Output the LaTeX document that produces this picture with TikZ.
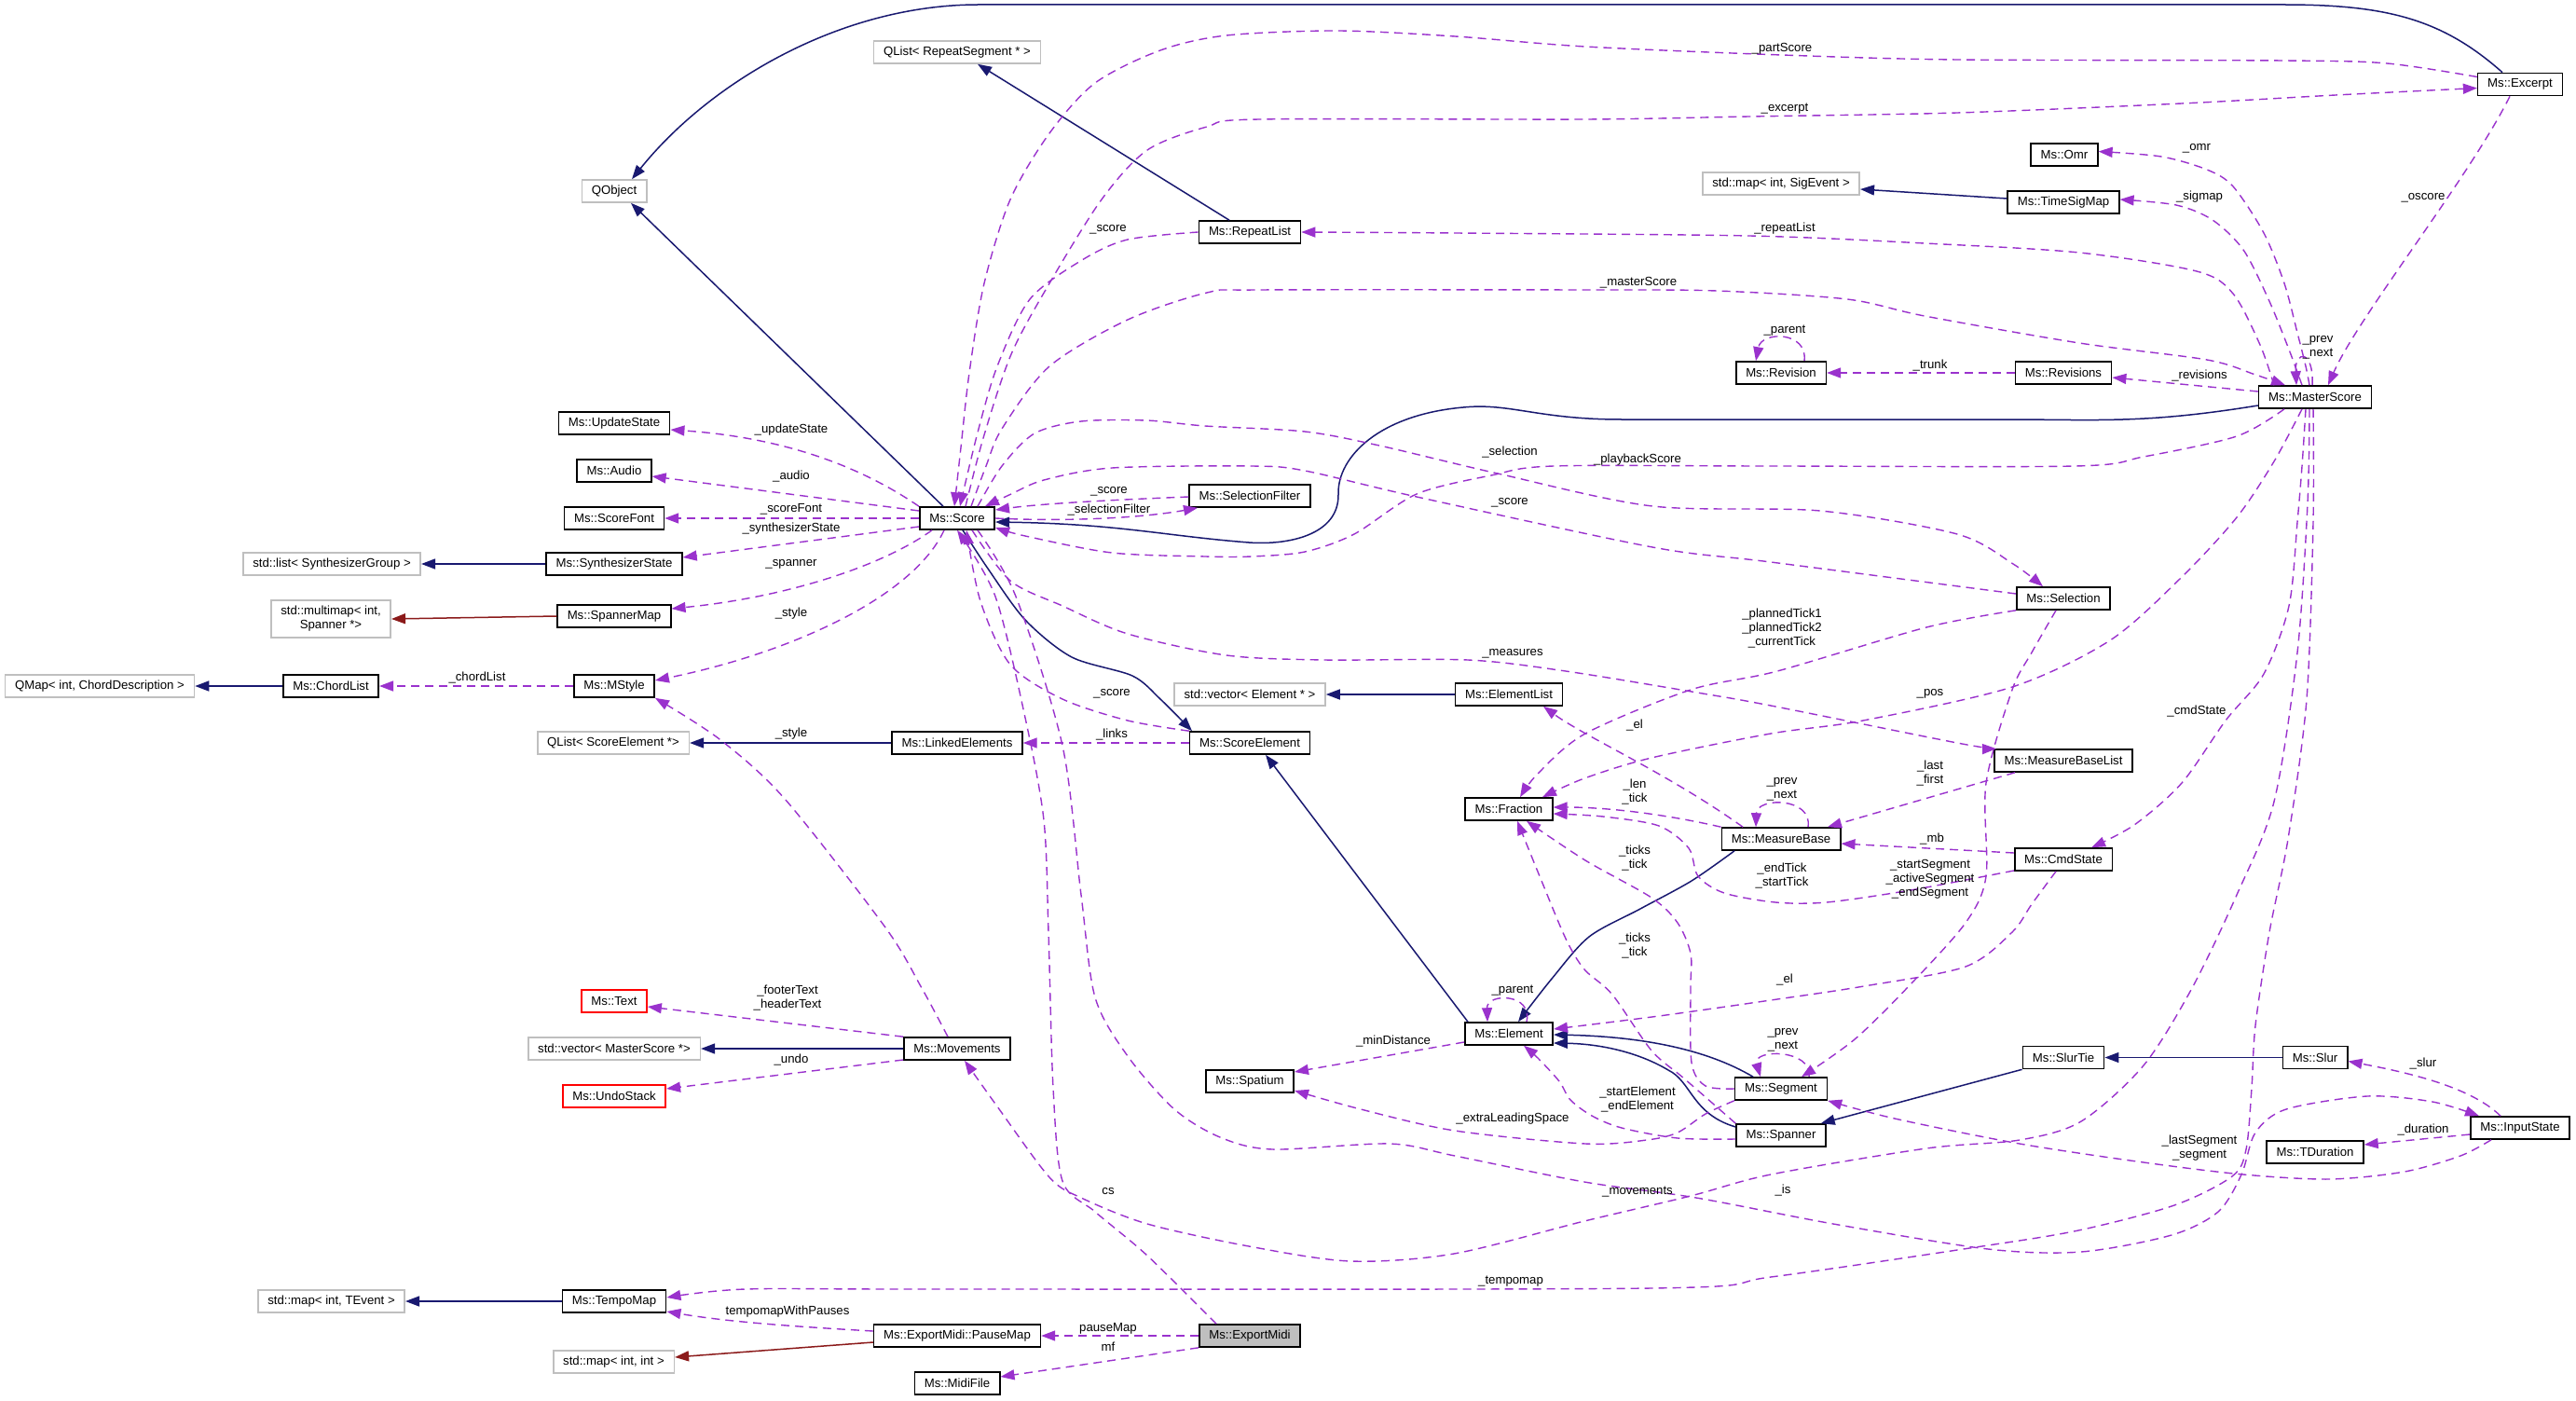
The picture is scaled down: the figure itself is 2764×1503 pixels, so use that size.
\documentclass[tikz,border=0pt]{standalone}
\usepackage{fontspec}
\setmainfont{Liberation Sans}
\usetikzlibrary{arrows.meta}
\definecolor{inhc}{HTML}{191970}
\definecolor{usec}{HTML}{9A32CD}
\definecolor{tplc}{HTML}{8B1A1A}
\definecolor{extc}{HTML}{BFBFBF}
\definecolor{selc}{HTML}{BFBFBF}
\newcommand\dgf{\fontsize{13.2}{15}\selectfont}
\tikzset{
  cls/.style={draw=black, line width=1.6pt, fill=white, inner xsep=10.5pt, inner ysep=0pt, minimum height=24pt, font=\dgf, align=center},
  ext/.style={cls, draw=extc},
  redc/.style={cls, draw=red},
  cur/.style={cls, fill=selc},
  inh/.style={draw=inhc, line width=1.5pt, -{Triangle[length=15pt,width=11pt]}},
  tpl/.style={draw=tplc, line width=1.5pt, -{Triangle[length=15pt,width=11pt]}},
  use/.style={draw=usec, line width=1.4pt, dash pattern=on 9pt off 6pt, -{Triangle[length=15pt,width=11pt]}},
  lbl/.style={font=\dgf, inner sep=0pt, align=center, text=black},
}
\begin{document}
\begin{tikzpicture}[x=1pt,y=-1pt]
\useasboundingbox (0,0) rectangle (2764,1503);
\fill[white] (0,0) rectangle (2764,1503);

% ---------------- nodes ----------------
\node[ext] (qobj) at (659,205) {QObject};
\node[ext] (qlrs) at (1027,56) {QList< RepeatSegment * >};
\node[cls] (exc) at (2704,90.5) {Ms::Excerpt};
\node[cls] (omr) at (2215,166) {Ms::Omr};
\node[ext] (sigev) at (1911,197) {std::map< int, SigEvent >};
\node[cls] (tsm) at (2214,217) {Ms::TimeSigMap};
\node[cls] (rl) at (1341,249) {Ms::RepeatList};
\node[cls] (rev) at (1911,400) {Ms::Revision};
\node[cls] (revs) at (2214,400) {Ms::Revisions};
\node[cls] (ms) at (2484,426) {Ms::MasterScore};
\node[cls] (ups) at (659,454) {Ms::UpdateState};
\node[cls] (aud) at (659,505) {Ms::Audio};
\node[cls] (sf) at (659,556) {Ms::ScoreFont};
\node[cls] (sc) at (1027,556) {Ms::Score};
\node[cls] (self) at (1341,532) {Ms::SelectionFilter};
\node[ext] (slsg) at (356,605) {std::list< SynthesizerGroup >};
\node[cls] (ss) at (659,605) {Ms::SynthesizerState};
\node[ext, minimum height=40pt, inner ysep=3pt] (smm) at (355,664) {std::multimap< int,\\Spanner *>};
\node[cls] (sm) at (659,661) {Ms::SpannerMap};
\node[cls] (sel) at (2214,642) {Ms::Selection};
\node[ext] (qmap) at (107,736) {QMap< int, ChordDescription >};
\node[cls] (cl) at (355,736) {Ms::ChordList};
\node[cls] (mst) at (659,736) {Ms::MStyle};
\node[ext] (sve) at (1341,745) {std::vector< Element * >};
\node[cls] (elist) at (1619,745) {Ms::ElementList};
\node[ext] (qlse) at (658,797) {QList< ScoreElement *>};
\node[cls] (le) at (1027,797) {Ms::LinkedElements};
\node[cls] (sce) at (1341,797) {Ms::ScoreElement};
\node[cls] (mbl) at (2214,816) {Ms::MeasureBaseList};
\node[cls] (fr) at (1619,868) {Ms::Fraction};
\node[cls] (mb) at (1911,900) {Ms::MeasureBase};
\node[cls] (cmd) at (2214,922) {Ms::CmdState};
\node[redc] (txt) at (659,1074) {Ms::Text};
\node[ext] (svms) at (659,1125) {std::vector< MasterScore *>};
\node[cls] (mov) at (1027,1125) {Ms::Movements};
\node[redc] (us) at (659,1176) {Ms::UndoStack};
\node[cls] (elm) at (1619,1109) {Ms::Element};
\node[cls] (spa) at (1341,1160) {Ms::Spatium};
\node[cls] (slt) at (2214,1134.5) {Ms::SlurTie};
\node[cls] (slur) at (2484,1134.5) {Ms::Slur};
\node[cls] (seg) at (1911,1168) {Ms::Segment};
\node[cls] (span) at (1911,1218) {Ms::Spanner};
\node[cls] (tdur) at (2484,1236) {Ms::TDuration};
\node[cls] (inp) at (2704,1210) {Ms::InputState};
\node[ext] (smte) at (355.5,1396) {std::map< int, TEvent >};
\node[cls] (tm) at (659,1396) {Ms::TempoMap};
\node[cls] (pmap) at (1027,1433) {Ms::ExportMidi::PauseMap};
\node[cur] (expm) at (1341,1433) {Ms::ExportMidi};
\node[ext] (smii) at (658.5,1461) {std::map< int, int >};
\node[cls] (midi) at (1027,1484) {Ms::MidiFile};

% ---------------- inheritance ----------------
\draw[inh] ([xshift=-19pt]exc.north) .. controls (2620,20) and (2560,5) .. (2450,5) -- (1050,5) .. controls (900,5) and (760,90) .. ([xshift=19pt]qobj.north);
\draw[inh] ([xshift=-22pt]rl.north) -- ([xshift=22pt]qlrs.south);
\draw[inh] ([yshift=4pt]tsm.west) -- ([yshift=-6pt]sigev.east);
\draw[inh] ([yshift=-9pt]ms.west) .. controls (2300,455) and (2250,450) .. (2150,450) -- (1740,450) .. controls (1650,450) and (1620,432) .. (1570,437) .. controls (1480,445) and (1435,490) .. (1436,530) .. controls (1437,575) and (1380,585) .. (1340,582) .. controls (1250,575) and (1200,562) .. ([yshift=-4pt]sc.east);
\draw[inh] ([xshift=-15pt]sc.north) -- ([xshift=18pt]qobj.south);
\draw[inh] (ss.west) -- (slsg.east);
\draw[inh] (cl.west) -- (qmap.east);
\draw[inh] (le.west) -- (qlse.east);
\draw[inh] plot[smooth] coordinates {([xshift=6pt]sc.south) (1060,610) (1100,665) (1150,705) (1215,725) (1245,750) ([xshift=-62pt]sce.north)};
\draw[inh] (elist.west) -- (sve.east);
\draw[inh] ([xshift=-44pt]elm.north) -- ([xshift=17pt]sce.south);
\draw[inh] plot[smooth] coordinates {([xshift=-50pt]mb.south) (1815,945) (1760,975) (1705,1005) (1665,1050) ([xshift=10pt]elm.north)};
\draw[inh] ([xshift=-30pt]seg.north) .. controls (1830,1125) and (1760,1112) .. ([yshift=-1pt]elm.east);
\draw[inh] ([yshift=9pt]span.west) .. controls (1815,1195) and (1815,1160) .. (1790,1148) .. controls (1760,1130) and (1720,1120) .. ([yshift=-10pt]elm.east);
\draw[inh] (slt.south west) -- ([xshift=-6pt]span.north east);
\draw[inh] (slur.west) -- (slt.east);
\draw[inh] (mov.west) -- (svms.east);
\draw[inh] (tm.west) -- (smte.east);
\draw[tpl] (sm.west) -- (smm.east);
\draw[tpl] ([yshift=-7pt]pmap.west) -- ([yshift=5pt]smii.east);

% ---------------- usage ----------------
\draw[use] (sc.north west) .. controls (930,505) and (850,470) .. ([yshift=-7pt]ups.east);
\draw[use] ([yshift=8pt]sc.west) -- ([yshift=-6pt]aud.east);
\draw[use] (sc.west) -- (sf.east);
\draw[use] ([yshift=-9pt]sc.west) -- ([yshift=7pt]ss.east);
\draw[use] ([xshift=-27pt]sc.south) .. controls (950,605) and (850,640) .. ([yshift=8pt]sm.east);
\draw[use] ([xshift=-14pt]sc.south) .. controls (980,640) and (850,700) .. ([yshift=6pt]mst.east);
\draw[use] (mst.west) -- (cl.east);
\draw[use] plot[smooth] coordinates {([xshift=-10pt]mov.north) (989,1060) (950,995) (842,857) (772,793) (mst.south east)};
\draw[use] (sce.west) -- (le.east);
\draw[use] plot[smooth] coordinates {(sce.north west) (1210,773) (1140,750) (1084,713) (1052,645) ([xshift=10pt]sc.south)};
\draw[use] plot[smooth] coordinates {(rl.west) (1210,257) (1161,279) (1105,321) (1070,393) (1049,464) ([xshift=3pt]sc.north)};
\draw[use] ([yshift=-1pt]self.west) .. controls (1200,536) and (1120,540) .. ([yshift=9pt]sc.east);
\draw[use] (sc.east) .. controls (1150,560) and (1230,555) .. ([xshift=-56pt]self.south);
\draw[use] plot[smooth] coordinates {([yshift=8pt]exc.west) (2561,68) (2450,65) (2100,64) (1912,59) (1701,50) (1561,39) (1435,33) (1316,38) (1245,54) (1175,89) (1126,143) (1084,214) (1056,304) (1040,400) (1031,480) ([xshift=-3pt]sc.north)};
\draw[use] plot[smooth] coordinates {([xshift=9pt]sc.north) (1055,470) (1085,380) (1126,304) (1182,214) (1231,161) (1295,136) (1351,128) (1701,128) (1877,125) (2100,121) (2341,111) (2506,102) ([yshift=-4pt]exc.west)};
\draw[use] plot[smooth] coordinates {([xshift=-44pt]ms.north) (2425,370) (2396,315) (2357,291) (2231,271) (2065,261) (1877,253) (1561,250) (rl.east)};
\draw[use] plot[smooth] coordinates {([xshift=15pt]sc.north) (1058,500) (1075,460) (1126,393) (1210,343) (1295,314) (1351,311) (1701,311) (1842,312) (1982,321) (2065,339) (2231,368) (2368,386) (2420,402) ([xshift=-32pt]ms.north)};
\draw[use] ([xshift=-3pt]ms.north) .. controls (2483,375) and (2462,375) .. ([xshift=-20pt]ms.north);
\draw[use] ([xshift=-11pt]exc.south) .. controls (2650,190) and (2530,340) .. ([xshift=14pt]ms.north);
\draw[use] plot[smooth] coordinates {([xshift=-6pt]ms.north) (2474,393) (2465,357) (2451,304) (2429,250) (2396,200) (2368,182) (2319,168) ([yshift=3.5pt]omr.east)};
\draw[use] plot[smooth] coordinates {([xshift=-14pt]ms.north) (2456,375) (2434,321) (2407,268) (2374,236) (2335,220) ([yshift=3pt]tsm.east)};
\draw[use] ([yshift=6pt]ms.west) -- ([yshift=-5pt]revs.east);
\draw[use] (revs.west) -- (rev.east);
\draw[use] ([xshift=25pt]rev.north) .. controls (1940,355) and (1890,355) .. ([xshift=-27pt]rev.north);
\draw[use] plot[smooth] coordinates {([xshift=22pt]sc.north) (1075,500) (1110,465) (1160,452) (1230,451) (1293,457) (1400,463) (1480,478) (1607,508) (1773,543) (1953,548) (2100,573) (2160,605) ([xshift=-22pt]sel.north)};
\draw[use] plot[smooth] coordinates {([yshift=5pt]sel.west) (1900,603) (1773,587) (1520,533) (1400,505) (1343,500) (1193,502) (1120,515) (1085,530) ([xshift=30pt]sc.north)};
\draw[use] plot[smooth] coordinates {([xshift=-33pt]ms.south) (2400,468) (2300,490) (2227,500) (1900,500) (1667,500) (1600,510) (1520,530) (1453,573) (1400,592) (1343,597) (1293,597) (1193,593) (1100,575) ([yshift=-10pt]sc.east)};
\draw[use] plot[smooth] coordinates {([xshift=16pt]sc.south) (1084,623) (1140,650) (1210,680) (1316,703) (1421,708) (1575,708) (1680,720) (1821,743) (1900,757) (2100,797) ([xshift=-72pt]mbl.north)};
\draw[use] plot[smooth] coordinates {([xshift=-14pt]ms.south) (2440,495) (2400,555) (2340,620) (2264,687) (2159,737) (1999,773) (1900,787) (1772,813) (1700,835) ([xshift=36pt]fr.north)};
\draw[use] plot[smooth] coordinates {(sel.south west) (2067,673) (1907,720) (1814,740) (1701,787) (1650,830) ([xshift=12pt]fr.north)};
\draw[use] ([xshift=-41pt]mb.north) .. controls (1790,830) and (1700,790) .. ([xshift=37pt]elist.south);
\draw[use] ([xshift=-52pt]mbl.south) -- ([xshift=50pt]mb.north);
\draw[use] ([xshift=29pt]mb.north) .. controls (1945,855) and (1885,855) .. ([xshift=-27pt]mb.north);
\draw[use] (mb.north west) .. controls (1780,872) and (1720,866) .. ([yshift=2pt]fr.east);
\draw[use] ([yshift=7pt]cmd.west) -- ([yshift=-5pt]mb.east);
\draw[use] plot[smooth] coordinates {([yshift=-12pt]cmd.west) (2050,955) (1960,968) (1905,968) (1850,958) (1822,940) (1812,910) (1780,886) (1720,876) ([yshift=-5pt]fr.east)};
\draw[use] plot[smooth] coordinates {([xshift=-8pt]sel.south) (2180,700) (2159,740) (2131,840) (2131,940) (2109,990) (2049,1057) (1990,1115) ([xshift=22pt]seg.north)};
\draw[use] plot[smooth] coordinates {([xshift=-10pt]ms.south) (2470,500) (2465,560) (2456,650) (2429,723) (2388,773) (2341,840) (2290,885) ([xshift=30pt]cmd.north)};
\draw[use] plot[smooth] coordinates {([xshift=-6pt]ms.south) (2476,540) (2465,700) (2440,860) (2400,960) (2352,1060) (2300,1143) (2233,1203) (2167,1223) (2067,1232) (1900,1260) (1814,1283) (1700,1310) (1560,1345) (1449,1353) (1340,1337) (1231,1313) (1160,1285) (1126,1263) (1070,1187) ([xshift=8pt]mov.south)};
\draw[use] plot[smooth] coordinates {([xshift=-2pt]ms.south) (2482,560) (2475,750) (2455,900) (2435,1000) (2420,1100) (2416,1167) (2410,1233) (2395,1262) (2333,1293) (2230,1320) (2120,1338) (1900,1370) (1772,1382) (1000,1383) (800,1383) ([yshift=4pt]tm.east)};
\draw[use] plot[smooth] coordinates {([xshift=22pt]sc.south) (1090,640) (1140,800) (1160,960) (1175,1070) (1210,1133) (1260,1190) (1309,1220) (1365,1233) (1491,1227) (1561,1240) (1700,1268) (1820,1285) (1967,1313) (2133,1340) (2233,1343) (2330,1325) (2380,1300) (2405,1260) (2420,1215) (2453,1190) (2540,1176) (2610,1182) ([xshift=-44pt]inp.north)};
\draw[use] plot[smooth] coordinates {([xshift=-8pt]cmd.south) (2180,970) (2159,1000) (2109,1037) (2000,1058) (1900,1073) (1780,1090) ([yshift=5pt]elm.east)};
\draw[use] plot[smooth] coordinates {(seg.west) (1830,1165) (1815,1140) (1814,1060) (1814,1023) (1800,990) (1772,963) (1701,923) ([xshift=19pt]fr.south)};
\draw[use] plot[smooth] coordinates {(span.north west) (1807,1157) (1772,1127) (1730,1067) (1700,1040) (1680,1007) (1652,940) ([xshift=9pt]fr.south)};
\draw[use] plot[smooth] coordinates {(seg.south west) (1830,1195) (1800,1215) (1767,1223) (1701,1227) (1561,1213) (1460,1190) ([yshift=-10pt]spa.east)};
\draw[use] ([yshift=-9pt]elm.west) -- ([yshift=10pt]spa.east);
\draw[use] ([xshift=19pt]elm.north) .. controls (1645,1065) and (1595,1065) .. ([xshift=-23pt]elm.north);
\draw[use] ([xshift=30pt]seg.north) .. controls (1945,1125) and (1880,1125) .. ([xshift=-22pt]seg.north);
\draw[use] plot[smooth] coordinates {([yshift=-4pt]span.west) (1800,1221) (1740,1210) (1708,1197) (1685,1180) (1673,1160) (1650,1135) ([xshift=16pt]elm.south)};
\draw[use] ([xshift=-21pt]inp.north) .. controls (2650,1165) and (2580,1150) .. ([yshift=-4pt]slur.east);
\draw[use] ([yshift=-7pt]inp.west) -- ([yshift=8pt]tdur.east);
\draw[use] plot[smooth] coordinates {([xshift=-31pt]inp.south) (2640,1240) (2580,1257) (2500,1265) (2407,1260) (2300,1247) (2167,1227) (2033,1200) (seg.south east)};
\draw[use] plot[smooth] coordinates {([xshift=-36pt]expm.north) (1231,1347) (1175,1300) (1140,1267) (1130,1167) (1125,1000) (1120,880) (1100,770) (1068,640) (sc.south)};
\draw[use] (expm.west) -- (pmap.east);
\draw[use] (expm.south west) -- ([yshift=7pt]midi.east);
\draw[use] ([yshift=5pt]pmap.west) .. controls (850,1423) and (780,1418) .. ([yshift=-11pt]tm.east);
\draw[use] (mov.north west) -- ([yshift=-6pt]txt.east);
\draw[use] ([yshift=-12pt]mov.west) -- ([yshift=8pt]us.east);

% ---------------- labels ----------------
\node[lbl] (l01) at (849,461) {\_updateState};
\node[lbl] (l02) at (849,511) {\_audio};
\node[lbl] (l03) at (849,546) {\_scoreFont};
\node[lbl] (l04) at (849,567) {\_synthesizerState};
\node[lbl] (l05) at (849,605) {\_spanner};
\node[lbl] (l06) at (849,658) {\_style};
\node[lbl] (l07) at (512,727) {\_chordList};
\node[lbl] (l08) at (849,787) {\_style};
\node[lbl] (l09) at (1193,788) {\_links};
\node[lbl] (l10) at (1193,744) {\_score};
\node[lbl] (l11) at (1189,246) {\_score};
\node[lbl] (l12) at (1190,527) {\_score};
\node[lbl] (l13) at (1190,547) {\_selectionFilter};
\node[lbl] (l14) at (1912,52) {\_partScore};
\node[lbl] (l15) at (1915,117) {\_excerpt};
\node[lbl] (l16) at (1915,245) {\_repeatList};
\node[lbl] (l17) at (1758,303) {\_masterScore};
\node[lbl] (l18) at (2487,373) {\_prev\\\_next};
\node[lbl] (l19) at (2600,212) {\_oscore};
\node[lbl] (l20) at (2357,159) {\_omr};
\node[lbl] (l21) at (2360,211) {\_sigmap};
\node[lbl] (l22) at (2360,403) {\_revisions};
\node[lbl] (l23) at (2071,392) {\_trunk};
\node[lbl] (l24) at (1915,355) {\_parent};
\node[lbl] (l25) at (1620,485) {\_selection};
\node[lbl] (l26) at (1620,539) {\_score};
\node[lbl] (l27) at (1757,493) {\_playbackScore};
\node[lbl] (l28) at (1623,701) {\_measures};
\node[lbl] (l29) at (2071,744) {\_pos};
\node[lbl] (l30) at (1912,674) {\_plannedTick1\\\_plannedTick2\\\_currentTick};
\node[lbl] (l31) at (1754,778) {\_el};
\node[lbl] (l32) at (2071,830) {\_last\\\_first};
\node[lbl] (l33) at (1912,847) {\_prev\\\_next};
\node[lbl] (l34) at (1754,850) {\_len\\\_tick};
\node[lbl] (l35) at (2073,900) {\_mb};
\node[lbl] (l36) at (1912,940) {\_endTick\\\_startTick};
\node[lbl] (l37) at (2071,943) {\_startSegment\\\_activeSegment\\\_endSegment};
\node[lbl] (l38) at (2357,763) {\_cmdState};
\node[lbl] (l39) at (1754,921) {\_ticks\\\_tick};
\node[lbl] (l40) at (1754,1015) {\_ticks\\\_tick};
\node[lbl] (l41) at (1915,1051) {\_el};
\node[lbl] (l42) at (1623,1063) {\_parent};
\node[lbl] (l43) at (1495,1117) {\_minDistance};
\node[lbl] (l44) at (1913,1116) {\_prev\\\_next};
\node[lbl] (l45) at (1757,1180) {\_startElement\\\_endElement};
\node[lbl] (l46) at (1623,1200) {\_extraLeadingSpace};
\node[lbl] (l47) at (2360,1232) {\_lastSegment\\\_segment};
\node[lbl] (l48) at (2600,1141) {\_slur};
\node[lbl] (l49) at (2600,1212) {\_duration};
\node[lbl] (l50) at (1757,1279) {\_movements};
\node[lbl] (l51) at (1913,1277) {\_is};
\node[lbl] (l52) at (1189,1278) {cs};
\node[lbl] (l53) at (1621,1375) {\_tempomap};
\node[lbl] (l54) at (845,1407) {tempomapWithPauses};
\node[lbl] (l55) at (1189,1425) {pauseMap};
\node[lbl] (l56) at (1189,1445) {mf};
\node[lbl] (l57) at (845,1071) {\_footerText\\\_headerText};
\node[lbl] (l58) at (849,1137) {\_undo};
\end{tikzpicture}
\end{document}
